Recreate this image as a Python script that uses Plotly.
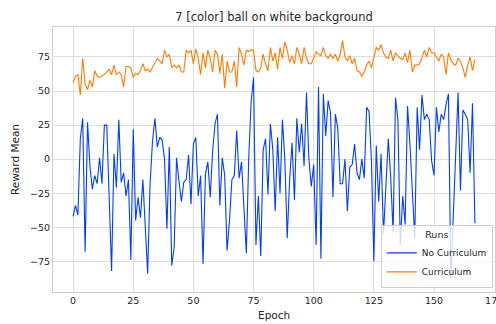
import plotly.graph_objects as go

no_curriculum = [
    -42, -34, -41, 15, 30, -68, 27, -5, -22, -12,
    -18, 1, -18, 25, 25, -25, -82, 4, -21, 29,
    -17, -10, -27, -15, -74, 22, -45, -28, -43, -15,
    -45, -84, -18, 13, 30, 9, 16, 14, 0, -51,
    9, -78, -65, 1, -16, -31, -17, -15, 3, -33,
    11, 16, -27, -12, -77, -11, -2, -28, 6, 26,
    33, -34, 1, -12, -67, -45, -15, -12, 21, -14,
    -2, -40, -69, 1, 42, 60, -63, -27, -71, 7,
    15, -26, 26, 7, -38, 16, -25, 29, 0, -58,
    -15, 12, -30, 30, 5, 26, -5, 49, 0, -20,
    -4, -63, 53, -73, 48, 17, 43, 34, -28, 33,
    23, -18, -18, 0, -38, -6, -4, 11, -10, -15,
    0, -14, 38, 35, -1, -75, 10, -31, 4, -55,
    -20, 15, -13, -54, 45, 29, -63, -27, -48, 39,
    11, -20, -58, 38, 7, 47, 29, 33, 29, -1,
    -12, 38, 20, 33, 29, 40, 48, -88, -42, 4,
    49, -23, 36, 33, 29, -10, 41, -47,
]

curriculum = [
    56, 61, 62, 47, 74, 55, 51, 58, 53, 65,
    61, 60, 61, 62, 64, 66, 62, 69, 62, 64,
    62, 53, 68, 68, 67, 60, 63, 62, 65, 70,
    65, 66, 64, 67, 70, 74, 72, 70, 80, 75,
    77, 67, 69, 67, 69, 64, 64, 80, 78, 80,
    70, 81, 74, 62, 78, 67, 80, 74, 64, 80,
    77, 63, 77, 52, 72, 64, 64, 72, 53, 82,
    77, 69, 80, 79, 80, 80, 65, 64, 67, 77,
    70, 65, 82, 72, 78, 66, 82, 74, 86, 80,
    71, 76, 70, 82, 77, 70, 82, 74, 70, 70,
    74, 79, 77, 76, 82, 76, 74, 77, 74, 77,
    72, 77, 87, 75, 72, 76, 70, 74, 65, 64,
    61, 64, 69, 72, 67, 74, 82, 80, 84, 78,
    75, 74, 80, 72, 78, 76, 74, 73, 78, 71,
    80, 64, 69, 69, 70, 74, 80, 75, 82, 78,
    78, 75, 72, 77, 75, 62, 78, 73, 70, 69,
    74, 72, 67, 60, 69, 75, 65, 73,
]

epochs = list(range(len(no_curriculum)))
x_ticks = [0, 25, 50, 75, 100, 125, 150, 175]
y_ticks = [-75, -50, -25, 0, 25, 50, 75]

FONT = "DejaVu Sans"
TXT = "#262626"

fig = go.Figure()
fig.add_trace(go.Scatter(x=epochs, y=no_curriculum, mode="lines", name="No Curriculum",
                         line=dict(color="#023eff", width=1.1)))
fig.add_trace(go.Scatter(x=epochs, y=curriculum, mode="lines", name="Curriculum",
                         line=dict(color="#ff7c00", width=1.1)))

axis_common = dict(showgrid=True, gridcolor="#dedede", gridwidth=1, zeroline=False,
                   showline=True, linecolor="#d0d0d0", linewidth=1, mirror=True,
                   ticks="", automargin=False, ticklabeloverflow="allow",
                   tickfont=dict(family=FONT, size=9.5, color=TXT))

fig.update_layout(
    width=496, height=324,
    margin=dict(l=53, r=1, t=27, b=32, autoexpand=False),
    paper_bgcolor="white", plot_bgcolor="white",
    title=dict(text="7 [color] ball on white background", xref="paper", x=0.5, xanchor="center",
               yref="container", y=0.947, yanchor="middle",
               font=dict(family=FONT, size=11.5, color=TXT)),
    xaxis=dict(range=[-8.35, 175.35], tickvals=x_ticks, **axis_common),
    yaxis=dict(range=[-97.5, 97], tickvals=y_ticks, **axis_common),
    showlegend=True,
    legend=dict(x=0.995, y=0.015, xanchor="right", yanchor="bottom",
                bgcolor="rgba(255,255,255,0.8)", bordercolor="#d0d0d0", borderwidth=1,
                font=dict(family=FONT, size=9, color=TXT),
                title=dict(text="Runs", side="top center",
                           font=dict(family=FONT, size=9.5, color=TXT)),
                itemwidth=30, tracegroupgap=0),
    annotations=[
        dict(text="Epoch", xref="paper", yref="paper", x=0.5, y=-0.085,
             xanchor="center", yanchor="middle", showarrow=False,
             font=dict(family=FONT, size=10.5, color=TXT)),
        dict(text="Reward Mean", xref="paper", yref="paper", x=-0.087, y=0.5,
             xanchor="center", yanchor="middle", textangle=-90, showarrow=False,
             font=dict(family=FONT, size=10.5, color=TXT)),
    ],
)

fig.write_html("out.html", config={"displayModeBar": False},
               post_script="document.body.style.margin='0';document.body.style.overflow='hidden';")
